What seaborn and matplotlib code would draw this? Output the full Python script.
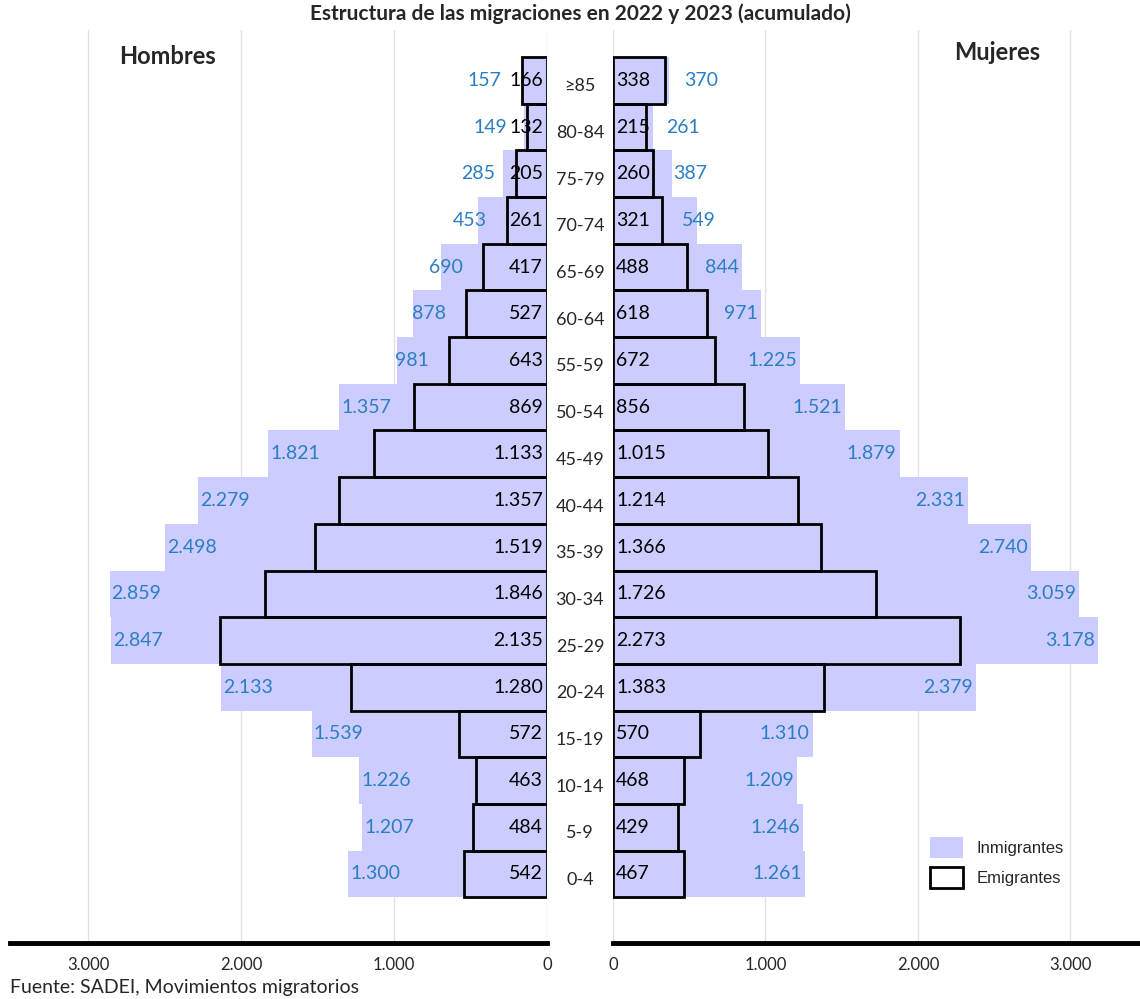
import numpy as np
import pandas as pd
import matplotlib
matplotlib.use("Agg")
import matplotlib.pyplot as plt
import matplotlib.transforms as mtransforms
from matplotlib.patches import Patch
import seaborn as sns

# data (top to bottom)
ages = ["≥85", "80-84", "75-79", "70-74", "65-69", "60-64", "55-59", "50-54", "45-49",
        "40-44", "35-39", "30-34", "25-29", "20-24", "15-19", "10-14", "5-9", "0-4"]
hombres_inm = [157, 149, 285, 453, 690, 878, 981, 1357, 1821,
               2279, 2498, 2859, 2847, 2133, 1539, 1226, 1207, 1300]
hombres_emi = [166, 132, 205, 261, 417, 527, 643, 869, 1133,
               1357, 1519, 1846, 2135, 1280, 572, 463, 484, 542]
mujeres_inm = [370, 261, 387, 549, 844, 971, 1225, 1521, 1879,
               2331, 2740, 3059, 3178, 2379, 1310, 1209, 1246, 1261]
mujeres_emi = [338, 215, 260, 321, 488, 618, 672, 856, 1015,
               1214, 1366, 1726, 2273, 1383, 570, 468, 429, 467]
ticks = [0, 1000, 2000, 3000]

LAVENDER = "#ccccff"
BLUE = "#2a7fc4"

sns.set_style("white")
plt.rcParams["font.family"] = ["Lato", "DejaVu Sans"]


def fmt(v):
    return f"{v:,}".replace(",", ".")


W, H = 1140, 999
fig = plt.figure(figsize=(W / 100, H / 100), dpi=100)
axL = fig.add_axes([10 / W, 56 / H, 537 / W, 913 / H])
axR = fig.add_axes([613 / W, 56 / H, 527 / W, 913 / H])

df = pd.DataFrame({"edad": ages, "h_inm": hombres_inm, "h_emi": hombres_emi,
                   "m_inm": mujeres_inm, "m_emi": mujeres_emi})

for ax, inm, emi in [(axL, "h_inm", "h_emi"), (axR, "m_inm", "m_emi")]:
    sns.barplot(data=df, x=inm, y="edad", order=ages, color=LAVENDER,
                saturation=1, width=1.0, linewidth=0, ax=ax, zorder=2)
    sns.barplot(data=df, x=emi, y="edad", order=ages, fill=False, color="black",
                linewidth=2, width=1.0, ax=ax, zorder=3)
    ax.set_ylim(18.48, -1.08)
    ax.set_xticks(ticks)
    ax.set_xticklabels([fmt(t) for t in ticks])
    ax.tick_params(axis="x", length=4, width=2, color="black", labelsize=12, pad=6)
    ax.tick_params(axis="y", left=False, labelleft=False)
    ax.set_xlabel("")
    ax.set_ylabel("")
    ax.grid(axis="x", color="#e2e2e2", lw=1, zorder=0)
    ax.set_axisbelow(True)
    for s in ["top", "left", "right"]:
        ax.spines[s].set_visible(False)
    ax.spines["bottom"].set_linewidth(3.5)
    ax.spines["bottom"].set_color("black")

axL.set_xlim(3510, 0)
axR.set_xlim(0, 3456)

# value labels
PX = 153 / 1000  # pixels per unit
FS = 14
gap = 20


def text_w(s):
    nd = sum(c.isdigit() for c in s)
    return (nd * 0.58 + (len(s) - nd) * 0.26) * FS * 100 / 72


for i in range(len(ages)):
    # hombres
    axL.annotate(fmt(hombres_emi[i]), (0, i), xytext=(-4, 0), textcoords="offset pixels",
                 ha="right", va="center", fontsize=FS, color="black", zorder=5)
    s = fmt(hombres_inm[i])
    w = text_w(s)
    natural_right = hombres_inm[i] * PX - w  # distance from zero to right edge
    shifted_right = hombres_emi[i] * PX + gap
    if natural_right < shifted_right:
        axL.annotate(s, (hombres_emi[i], i), xytext=(-gap, 0), textcoords="offset pixels",
                     ha="right", va="center", fontsize=FS, color=BLUE, zorder=5)
    else:
        axL.annotate(s, (hombres_inm[i], i), xytext=(2, 0), textcoords="offset pixels",
                     ha="left", va="center", fontsize=FS, color=BLUE, zorder=5)
    # mujeres
    axR.annotate(fmt(mujeres_emi[i]), (0, i), xytext=(3, 0), textcoords="offset pixels",
                 ha="left", va="center", fontsize=FS, color="black", zorder=5)
    s = fmt(mujeres_inm[i])
    w = text_w(s)
    natural_left = mujeres_inm[i] * PX - w
    shifted_left = mujeres_emi[i] * PX + gap
    if natural_left < shifted_left:
        axR.annotate(s, (mujeres_emi[i], i), xytext=(gap, 0), textcoords="offset pixels",
                     ha="left", va="center", fontsize=FS, color=BLUE, zorder=5)
    else:
        axR.annotate(s, (mujeres_inm[i], i), xytext=(-3, 0), textcoords="offset pixels",
                     ha="right", va="center", fontsize=FS, color=BLUE, zorder=5)

# age labels in the middle
trans = mtransforms.blended_transform_factory(fig.transFigure, axL.transData)
off = mtransforms.offset_copy(trans, fig=fig, x=0, y=-6, units="dots")
for i, a in enumerate(ages):
    fig.text(580 / W, i, a, transform=off, ha="center", va="center", fontsize=13)

fig.text(580 / W, 1 - 20 / H, "Estructura de las migraciones en 2022 y 2023 (acumulado)",
         ha="center", va="baseline", fontsize=15, fontweight="bold")
fig.text(168 / W, 1 - 57 / H, "Hombres", ha="center", va="center", fontsize=17, fontweight="bold")
fig.text(997 / W, 1 - 52 / H, "Mujeres", ha="center", va="center", fontsize=17, fontweight="bold")
fig.text(10 / W, 1 - 987 / H, "Fuente: SADEI, Movimientos migratorios", ha="left",
         va="center", fontsize=14)

handles = [Patch(facecolor=LAVENDER, edgecolor="none", label="Inmigrantes"),
           Patch(facecolor="white", edgecolor="black", linewidth=2, label="Emigrantes")]
fig.legend(handles=handles, loc="upper left", bbox_to_anchor=(915 / W, 1 - 822 / H),
           frameon=False, prop={"family": "Liberation Sans", "size": 12},
           handlelength=2.0, handleheight=1.6, labelspacing=0.5, handletextpad=0.8)

fig.savefig("out.png", dpi=100)
